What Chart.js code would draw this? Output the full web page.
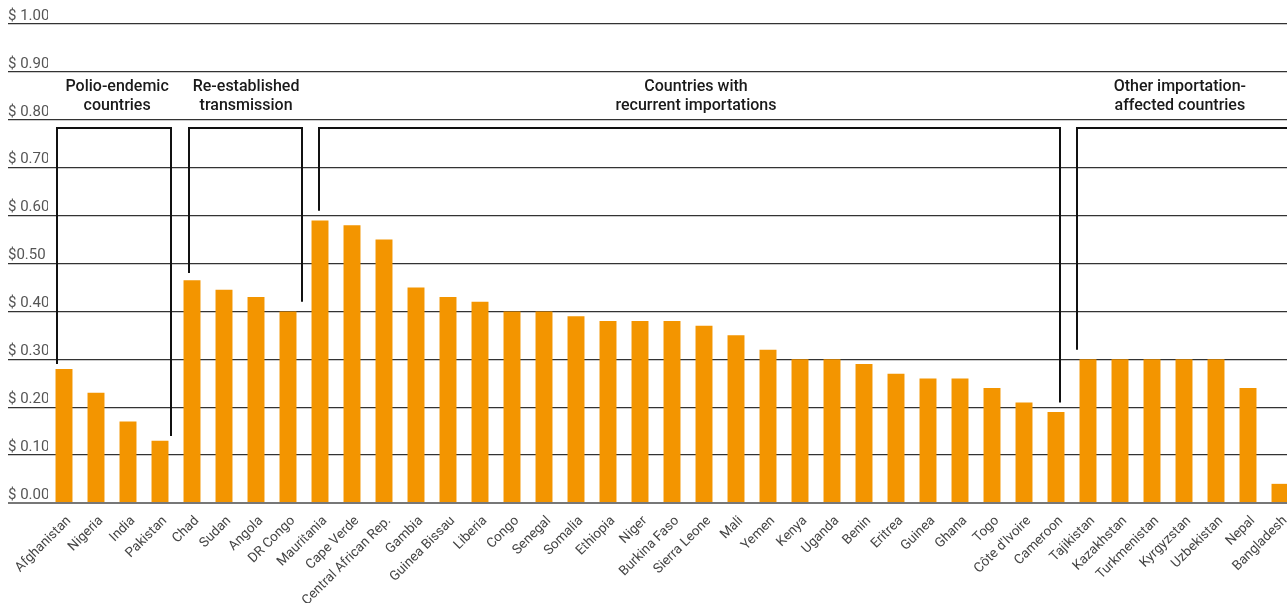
<!DOCTYPE html>
<html>
<head>
<meta charset="utf-8">
<script src="https://cdn.jsdelivr.net/npm/chart.js@4/dist/chart.umd.min.js"></script>
<style>
  html, body { margin: 0; padding: 0; background: #fff; overflow: hidden; }
  #wrap { width: 1296px; height: 603px; }
</style>
</head>
<body>
<div id="wrap"><canvas id="costChart"></canvas></div>
<script>
// cost per child, US$
var countries = ["Afghanistan", "Nigeria", "India", "Pakistan", "Chad", "Sudan", "Angola", "DR Congo",
  "Mauritania", "Cape Verde", "Central African Rep.", "Gambia", "Guinea Bissau", "Liberia", "Congo",
  "Senegal", "Somalia", "Ethiopia", "Niger", "Burkina Faso", "Sierra Leone", "Mali", "Yemen", "Kenya",
  "Uganda", "Benin", "Eritrea", "Guinea", "Ghana", "Togo", "Côte d'Ivoire", "Cameroon", "Tajikistan",
  "Kazakhstan", "Turkmenistan", "Kyrgyzstan", "Uzbekistan", "Nepal", "Bangladesh"];
var costs = [0.28, 0.23, 0.17, 0.13, 0.465, 0.445, 0.43, 0.40,
  0.59, 0.58, 0.55, 0.45, 0.43, 0.42, 0.40,
  0.40, 0.39, 0.38, 0.38, 0.38, 0.37, 0.35, 0.32, 0.30,
  0.30, 0.29, 0.27, 0.26, 0.26, 0.24, 0.21, 0.19, 0.30,
  0.30, 0.30, 0.30, 0.30, 0.24, 0.04];
var yTickLabels = ["$ 0.00", "$ 0.10", "$ 0.20", "$ 0.30", "$ 0.40", "$0.50",
  "$ 0.60", "$ 0.70", "$ 0.80", "$ 0.90", "$ 1.00"];
var groupNames = [["Polio-endemic", "countries"], ["Re-established", "transmission"],
  ["Countries with", "recurrent importations"], ["Other importation-", "affected countries"]];

// bracket geometry: category index + pixel nudge, drop ends in value units
var brackets = [
  { from: 0, fromDx: -7, fromEnd: 0.29, to: 3, toDx: 11, toEnd: 0.14, text: 1.66 },
  { from: 4, fromDx: -3, fromEnd: 0.48, to: 7, toDx: 14, toEnd: 0.42, text: 5.69 },
  { from: 8, fromDx: -1, fromEnd: 0.61, to: 31, toDx: 4, toEnd: 0.21, text: 19.75 },
  { from: 32, fromDx: -11, fromEnd: 0.32, to: 38, toDx: 40, toEnd: null, text: 34.87 }
];

var bracketPlugin = {
  id: "brackets",
  afterDraw: function(chart) {
    var ctx = chart.ctx;
    var x = chart.scales.x, y = chart.scales.y;
    var step = x.getPixelForValue(1) - x.getPixelForValue(0);
    var topY = y.getPixelForValue(0.783);
    ctx.save();
    ctx.strokeStyle = "#111";
    ctx.lineWidth = 2;
    brackets.forEach(function(b, i) {
      var x1 = x.getPixelForValue(b.from) + b.fromDx;
      var x2 = x.getPixelForValue(b.to) + b.toDx;
      ctx.beginPath();
      ctx.moveTo(x1, y.getPixelForValue(b.fromEnd));
      ctx.lineTo(x1, topY);
      ctx.lineTo(x2, topY);
      if (b.toEnd !== null) ctx.lineTo(x2, y.getPixelForValue(b.toEnd));
      ctx.stroke();

      var tx = x.getPixelForValue(0) + b.text * step;
      ctx.fillStyle = "#1a1a1a";
      ctx.font = "500 16px Roboto";
      ctx.textAlign = "center";
      ctx.textBaseline = "middle";
      ctx.fillText(groupNames[i][0], tx, y.getPixelForValue(0.868));
      ctx.fillText(groupNames[i][1], tx, y.getPixelForValue(0.828));
    });
    ctx.restore();
  }
};

new Chart(document.getElementById("costChart"), {
  type: "bar",
  data: {
    labels: countries,
    datasets: [{
      data: costs,
      backgroundColor: "#F39500",
      barPercentage: 0.53,
      categoryPercentage: 1
    }]
  },
  options: {
    responsive: true,
    maintainAspectRatio: false,
    animation: false,
    layout: { padding: { top: 24, left: 8, right: 0, bottom: 0 } },
    plugins: { legend: { display: false }, tooltip: { enabled: false } },
    scales: {
      x: {
        grid: { display: false },
        border: { display: false },
        ticks: {
          minRotation: 45,
          maxRotation: 45,
          autoSkip: false,
          padding: 2,
          labelOffset: 5,
          color: "#444",
          font: { family: "Roboto", size: 13.5 }
        },
        afterFit: function(s) { s.height = 100; }
      },
      y: {
        min: 0,
        max: 1,
        z: 1,
        border: { display: false },
        grid: {
          color: function(c) { return c.index === 0 ? "#777" : "#333"; },
          lineWidth: function(c) { return c.index === 0 ? 2 : 1.3; },
          tickLength: 40,
          drawTicks: true
        },
        ticks: {
          stepSize: 0.1,
          crossAlign: "far",
          labelOffset: -8,
          color: "#555",
          font: { family: "Roboto", size: 15 },
          callback: function(v, i) { return yTickLabels[i]; }
        },
        afterFit: function(s) { s.width = 40; }
      }
    }
  },
  plugins: [bracketPlugin]
});
</script>
</body>
</html>
